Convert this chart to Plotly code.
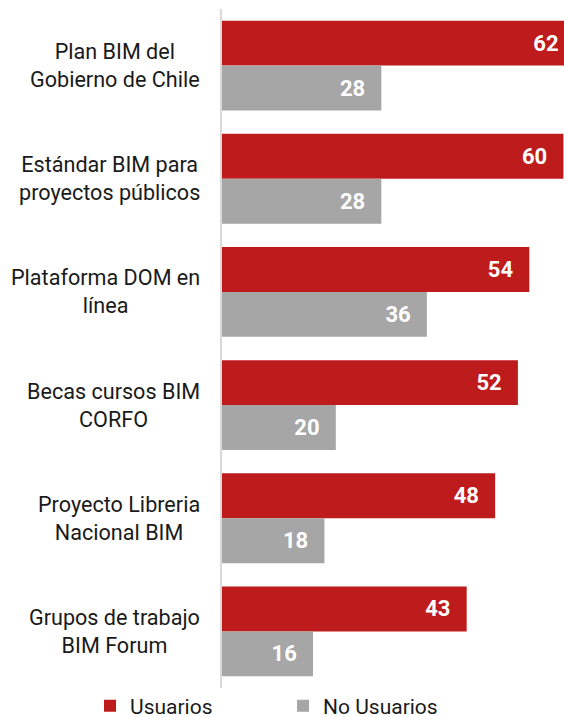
import plotly.graph_objects as go

categories = [
    "Plan BIM del<br>Gobierno de Chile",
    "Estándar BIM para<br>proyectos públicos",
    "Plataforma DOM en<br>línea",
    "Becas cursos BIM<br>CORFO",
    "Proyecto Libreria<br>Nacional BIM",
    "Grupos de trabajo<br>BIM Forum",
]
usuarios = [62, 60, 54, 52, 48, 43]
no_usuarios = [28, 28, 36, 20, 18, 16]

RED = "#BE1B1C"
GRAY = "#A6A6A6"
FONT = "Roboto"
pad = "\u00a0\u00a0\u200a"

W, H = 564, 717

fig = go.Figure()
fig.add_trace(go.Bar(
    y=categories, x=usuarios, orientation="h", name="Usuarios",
    marker=dict(color=RED, line=dict(width=0)),
    text=[f"{v}{pad}" for v in usuarios], textposition="inside",
    insidetextanchor="end", cliponaxis=True, legend="legend",
    textfont=dict(family=FONT, size=22, color="white", weight="bold"),
))
fig.add_trace(go.Bar(
    y=categories, x=no_usuarios, orientation="h", name="No Usuarios",
    marker=dict(color=GRAY, line=dict(width=0)),
    text=[f"{v}{pad}" for v in no_usuarios], textposition="inside",
    insidetextanchor="end", cliponaxis=True, legend="legend2",
    textfont=dict(family=FONT, size=22, color="white", weight="bold"),
))

for c in categories:
    fig.add_annotation(
        x=-0.058, xref="paper", y=c, yref="y", text=c, showarrow=False,
        xanchor="right", yanchor="middle", align="center",
        font=dict(family=FONT, size=21.6, color="#1A1A1A"),
    )

legend_common = dict(orientation="h", xref="container", yref="container",
                     xanchor="left", y=0.0153, yanchor="middle",
                     font=dict(family=FONT, size=21, color="#1A1A1A"),
                     itemwidth=30, bgcolor="rgba(0,0,0,0)")

fig.update_layout(
    width=W, height=H,
    margin=dict(l=222, r=0, t=9, b=29, autoexpand=False),
    paper_bgcolor="white", plot_bgcolor="white",
    barmode="group", bargap=0.206, bargroupgap=0,
    uniformtext=dict(mode=False),
    xaxis=dict(range=[0, 60.1], visible=False, fixedrange=True),
    yaxis=dict(autorange="reversed", showticklabels=False, showline=True,
               linecolor="#D9D9D9", linewidth=2, ticks="", showgrid=False,
               zeroline=False, fixedrange=True),
    showlegend=True,
    legend=dict(x=0.1596, **legend_common),
    legend2=dict(x=0.5018, **legend_common),
    font=dict(family=FONT),
)

fig.write_html(
    "out.html",
    config={"displayModeBar": False},
    post_script="document.body.style.margin='0';document.body.style.overflow='hidden';",
)
